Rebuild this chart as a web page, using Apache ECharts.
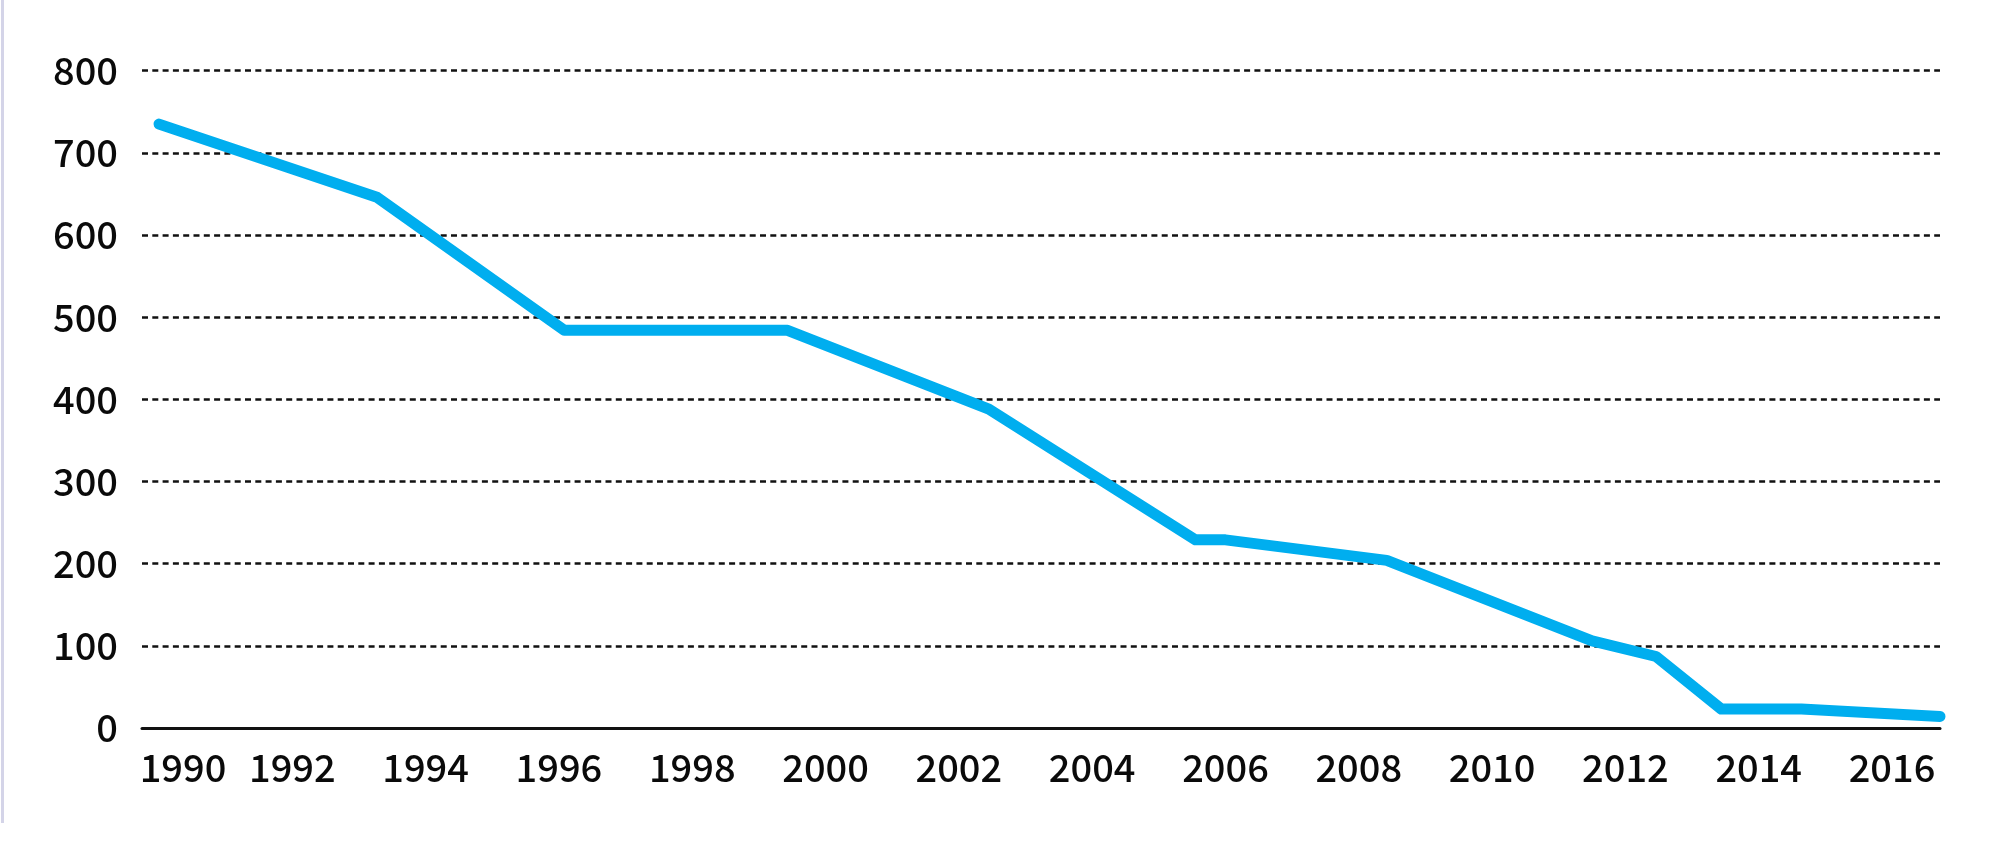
<!DOCTYPE html>
<html>
<head>
<meta charset="utf-8">
<script src="https://cdn.jsdelivr.net/npm/echarts@6/dist/echarts.min.js"></script>
<style>
html,body{margin:0;padding:0;background:#fff;}
#chart{width:2000px;height:864px;}
</style>
</head>
<body>
<div id="chart"></div>
<script>
// Data (year, value)
const years  = [1990.0, 1993.27, 1996.08, 1999.43, 2002.45, 2005.55, 2006.0, 2008.42, 2011.5, 2012.46, 2013.44, 2014.64, 2016.72];
const values = [735,    646,     484,     484,     388,     229,     229,    204,     106,    87,      23,      23,      14];
const xTickLabels = [1990, 1992, 1994, 1996, 1998, 2000, 2002, 2004, 2006, 2008, 2010, 2012, 2014, 2016];
const yTicks = [0, 100, 200, 300, 400, 500, 600, 700, 800];

const FONT = '"Noto Sans CJK JP", "Noto Sans", sans-serif';
const chart = echarts.init(document.getElementById('chart'), null, {renderer: 'canvas'});

chart.setOption({
  backgroundColor: '#ffffff',
  animation: false,
  grid: {left: 142, right: 60, top: 70.7, bottom: 136, containLabel: false},
  xAxis: {
    type: 'value',
    min: 1989.745,
    max: 2016.72,
    axisLine: {show: true, onZero: false, lineStyle: {color: '#111111', width: 3}},
    axisTick: {show: false},
    splitLine: {show: false},
    axisLabel: {
      customValues: xTickLabels,
      margin: 21,
      fontFamily: FONT,
      fontSize: 38,
      fontWeight: 500,
      color: '#0a0a0a',
      formatter: function (v) {
        return v === xTickLabels[0] ? '{first|' + v + '}' : String(v);
      },
      rich: {
        first: {padding: [0, 0, 0, 48], fontFamily: FONT, fontSize: 38, fontWeight: 500, color: '#0a0a0a'}
      }
    }
  },
  yAxis: {
    type: 'value',
    min: yTicks[0],
    max: yTicks[yTicks.length - 1],
    interval: 100,
    axisLine: {show: false},
    axisTick: {show: false},
    axisLabel: {margin: 24, fontFamily: FONT, fontSize: 38, fontWeight: 500, color: '#0a0a0a'},
    splitLine: {
      show: true,
      lineStyle: {color: '#111111', width: 2.7, type: [6, 4.3]}
    }
  },
  series: [{
    type: 'line',
    data: years.map((y, i) => [y, values[i]]),
    showSymbol: false,
    symbol: 'none',
    lineStyle: {color: '#00AEEF', width: 11, cap: 'round', join: 'round'},
    z: 5
  }],
  graphic: [{
    type: 'rect',
    shape: {x: 1, y: 0, width: 3, height: 823},
    style: {fill: '#d4d4e8'},
    silent: true
  }]
});
</script>
</body>
</html>
